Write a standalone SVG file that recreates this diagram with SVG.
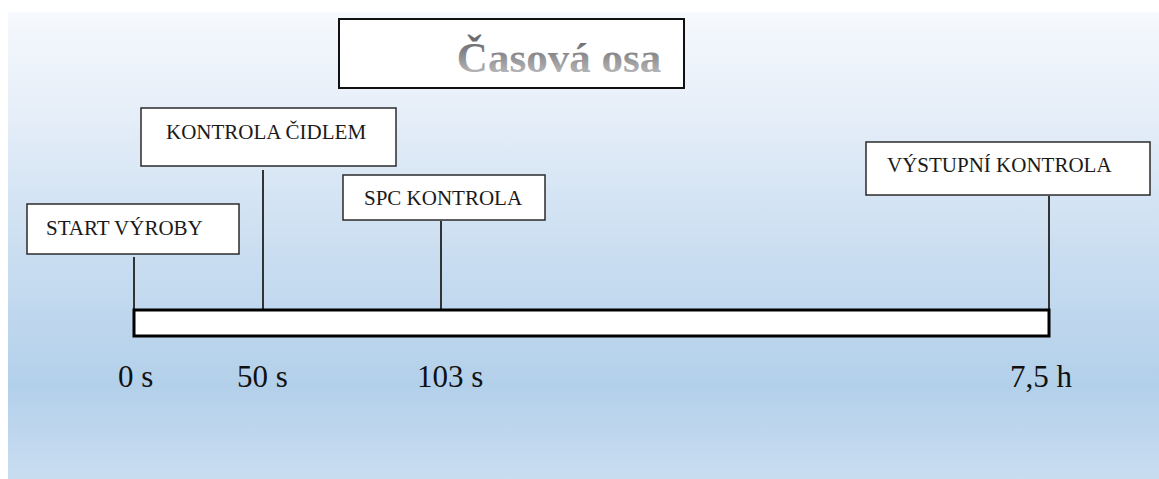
<svg xmlns="http://www.w3.org/2000/svg" width="1159" height="479" viewBox="0 0 1159 479">
  <defs>
    <linearGradient id="bg" x1="0" y1="0" x2="0" y2="1">
      <stop offset="0" stop-color="#f6f9fd"/>
      <stop offset="0.2" stop-color="#e7eff9"/>
      <stop offset="0.55" stop-color="#c7dcf0"/>
      <stop offset="0.8" stop-color="#b3d0ea"/>
      <stop offset="1" stop-color="#c9ddf1"/>
    </linearGradient>
    <linearGradient id="titleFill" x1="0" y1="0" x2="0" y2="1">
      <stop offset="0.15" stop-color="#6c6c70"/>
      <stop offset="1" stop-color="#c8c8ca"/>
    </linearGradient>
  </defs>
  <style>
    .box { fill: #ffffff; stroke: #2b2b2b; stroke-width: 1.5; }
    .label { font-family: "Liberation Serif", "Times New Roman", serif; font-size: 21px; fill: #1a1a1a; }
    .tick { font-family: "Liberation Serif", "Times New Roman", serif; font-size: 31px; fill: #111111; }
    .link { stroke: #333333; stroke-width: 2; fill: none; }
  </style>

  <!-- backdrop -->
  <rect x="8" y="12" width="1151" height="467" fill="url(#bg)"/>

  <!-- heading -->
  <g id="title">
    <rect x="339" y="19" width="345" height="69" fill="#ffffff" stroke="#111111" stroke-width="2"/>
    <text x="559" y="72" text-anchor="middle" font-family="Liberation Serif, Times New Roman, serif" font-size="43" font-weight="bold" fill="url(#titleFill)">Časová osa</text>
  </g>

  <!-- connectors from each event to the time bar -->
  <g id="connectors">
    <line class="link" x1="134" y1="257" x2="134" y2="309"/>
    <line class="link" x1="263" y1="170" x2="263" y2="309"/>
    <line class="link" x1="441" y1="221" x2="441" y2="309"/>
    <line class="link" x1="1049" y1="196" x2="1049" y2="309"/>
  </g>

  <!-- events -->
  <g id="start">
    <rect class="box" x="27" y="204" width="212" height="50"/>
    <text class="label" x="46" y="235">START VÝROBY</text>
  </g>
  <g id="sensor-check">
    <rect class="box" x="141" y="108" width="255" height="58"/>
    <text class="label" x="166" y="139">KONTROLA ČIDLEM</text>
  </g>
  <g id="spc-check">
    <rect class="box" x="343" y="175" width="202" height="45"/>
    <text class="label" x="364" y="205">SPC KONTROLA</text>
  </g>
  <g id="final-check">
    <rect class="box" x="866" y="142" width="284" height="53"/>
    <text class="label" x="887" y="172">VÝSTUPNÍ KONTROLA</text>
  </g>

  <!-- time bar -->
  <g id="timeline">
    <rect x="134" y="310" width="915" height="26" fill="#ffffff" stroke="#000000" stroke-width="3"/>
  </g>

  <!-- time marks -->
  <g id="marks">
    <text class="tick" x="118" y="387">0 s</text>
    <text class="tick" x="237" y="387">50 s</text>
    <text class="tick" x="417" y="387">103 s</text>
    <text class="tick" x="1010" y="387">7,5 h</text>
  </g>
</svg>
